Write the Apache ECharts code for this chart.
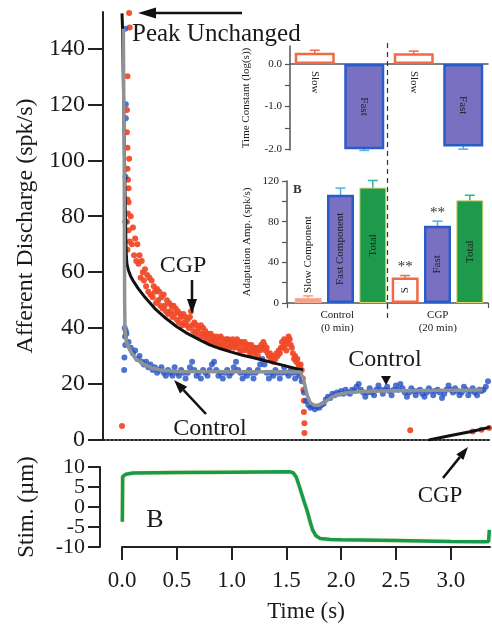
<!DOCTYPE html>
<html>
<head>
<meta charset="utf-8">
<script src="https://cdn.jsdelivr.net/npm/echarts@6/dist/echarts.min.js"></script>
<style>
  html, body { margin: 0; padding: 0; background: #fff; }
  #chart { width: 492px; height: 627px; }
</style>
</head>
<body>
<div id="chart"></div>
<script>
// ---- values ----

// CGP discharge (red dots), one sample every 10 ms starting at 0.08 s
const cgpStart = 0.08, cgpStep = 0.01;
const cgpRate = [
  80, 70, 76,
  66, 72, 64, 70, 63,
  66, 58, 64, 60, 57,
  61, 55, 59, 53, 58,
  52, 57, 51, 55, 53,
  49, 54, 50, 53, 48,
  51, 47, 52, 48, 46,
  50, 45, 49, 46, 48,
  44, 48, 45, 47, 43,
  46, 42, 45, 44, 41,
  45, 42, 44, 41, 43,
  40, 44, 46, 41, 39,
  42, 38, 41, 39, 40,
  37, 41, 38, 40, 37,
  39, 36, 38, 37, 35,
  38, 35, 37, 36, 34,
  37, 35, 36, 34, 37,
  34, 36, 35, 33, 36,
  34, 36, 33, 35, 34,
  36, 33, 35, 34, 36,
  33, 35, 32, 35, 34,
  32, 35, 33, 34, 32,
  34, 31, 34, 32, 33,
  31, 33, 32, 30, 33,
  32, 34, 33, 35, 34,
  32, 33, 31, 30, 31,
  29, 30, 28, 30, 29,
  31, 30, 32, 31, 33,
  35, 33, 36, 34, 32,
  35, 37, 36, 34, 33,
  31, 29, 30, 28, 29,
  27, 26, 27, 25
];
// onset burst, fall at release and stray CGP points [t, spk/s]
const cgpExtra = [
  [0.065, 152.6], [0.07, 147.5], [0.05, 130], [0.045, 118], [0.045, 110], [0.05, 104.5],
  [0.065, 100.5], [0.05, 97], [0.055, 93], [0.06, 90], [0.05, 86], [0.06, 85], [0.055, 81],
  [0.045, 78], [0.06, 75], [0.07, 71], [0.05, 68],
  [1.65, 22], [1.655, 18], [1.66, 14], [1.66, 10], [1.665, 6], [1.665, 2.5],
  [0.0, 5], [2.63, 3.5], [3.2, 3.0], [3.28, 3.7], [3.35, 4.3]
];

// Control discharge (blue dots), one sample every 20 ms starting at 0.04 s
const ctrlStart = 0.04, ctrlStep = 0.02;
const ctrlRate = [
  38, 35, 33, 31, 32, 29, 30, 28, 27, 28,
  26, 27, 25, 26, 24, 25, 26, 24, 23, 25,
  24, 23, 26, 24, 23, 25, 24, 22, 24, 26,
  28, 25, 23, 24, 22, 25, 24, 23, 25, 27,
  28, 25, 23, 24, 22, 24, 25, 23, 24, 26,
  28, 25, 24, 22, 24, 23, 25, 24, 22, 24,
  25, 27, 29, 27, 24, 22, 24, 23, 25, 24,
  22, 24, 26, 24, 23, 25, 24, 22, 24, 23,
  21, 17, 14, 12.5, 11.5, 12, 11, 12, 11.5, 12.5,
  13, 14.5, 15.5, 15, 16.5, 16, 17, 16.5, 17.5, 16.5,
  18, 17, 16.5, 18, 17.5, 19, 20, 18, 17, 15.5,
  17, 18.5, 17, 16, 18, 19.5, 18, 16.5, 18, 19,
  17.5, 16, 18, 19.5, 18, 20, 18.5, 17, 15.5, 17,
  18.5, 17.5, 16, 17.5, 18, 16.5, 15.5, 17, 18.5, 17.5,
  16, 17.5, 18, 17, 15, 16.5, 18, 19.5, 18, 17,
  18.5, 17.5, 16, 17, 19, 18, 16, 17.5, 18.5, 17,
  16, 18, 17.5, 18, 19, 21, 23
];
const ctrlExtra = [
  [0.03, 147], [0.035, 120], [0.035, 115], [0.032, 94], [0.03, 78],
  [0.02, 25], [0.022, 29.5], [0.025, 40], [0.028, 37], [0.03, 34], [0.035, 39]
];

// fitted curves
const cgpFit = [
  [0.0, 152.5], [0.005, 147], [0.015, 120], [0.025, 95], [0.032, 78], [0.038, 67],
  [0.045, 63], [0.06, 60.5], [0.08, 58.5], [0.1, 57], [0.15, 54], [0.2, 51.5],
  [0.3, 47], [0.4, 43.5], [0.5, 40.5], [0.6, 38], [0.7, 36], [0.8, 34], [0.9, 32.6],
  [1.0, 31.4], [1.1, 30.3], [1.2, 29.4], [1.3, 28.4], [1.4, 27.4], [1.5, 26.4],
  [1.6, 25.4], [1.65, 25]
];
const cgpFitLate = [[2.8, 0], [3.0, 1.6], [3.2, 3.1], [3.36, 4.6]];
const ctrlFit = [
  [0.012, 147], [0.02, 100], [0.024, 50], [0.027, 40], [0.04, 35], [0.073, 32],
  [0.12, 29.3], [0.19, 27.3], [0.27, 25.8], [0.35, 25], [0.5, 24.5], [1.0, 24.4],
  [1.63, 24.3], [1.66, 21], [1.69, 16], [1.72, 13.2], [1.76, 12.3], [1.8, 12.4],
  [1.85, 13.5], [1.9, 15], [1.96, 16.2], [2.05, 16.9], [2.2, 17.3], [2.5, 17.6],
  [3.0, 17.8], [3.29, 17.9]
];

// stimulus trace
const stim = [
  [0.003, -3.7], [0.006, 7.6], [0.036, 8.2], [0.1, 8.5], [0.5, 8.6], [1.0, 8.7],
  [1.53, 8.8], [1.56, 8.6], [1.59, 7.5], [1.62, 5], [1.66, 1.5], [1.69, -1],
  [1.72, -4], [1.74, -5.8], [1.77, -7.2], [1.81, -7.9], [1.9, -8.1], [2.0, -8.2],
  [2.5, -8.4], [3.0, -8.6], [3.3, -8.7], [3.345, -8.6], [3.352, -5.7]
];

const rateTicks = [0, 20, 40, 60, 80, 100, 120, 140];
const timeTicks = [0, 0.5, 1.0, 1.5, 2.0, 2.5, 3.0];
const stimTicks = [-10, -5, 0, 5, 10];
// labels are split over two axes so ECharts does not drop the crowded ones
const stimLabelsMain = [-10, 0, 10];
const stimLabelsMid = [-5, 5];

// inset: time constants
const tauNames = ['Slow', 'Fast', 'Slow', 'Fast'];
const tauKinds = ['slow', 'fast', 'slow', 'fast'];
const tauValues = [0.26, -2.0, 0.25, -1.94];
const tauErr = [0.06, 0.03, 0.05, 0.06];
const tauTicks = [-2, -1.5, -1, -0.5, 0];
const tauLabels = [-2, -1, 0];

// inset B: adaptation amplitudes
const ampNames = ['Slow Component', 'Fast Component', 'Total', 'S', 'Fast', 'Total'];
const ampKinds = ['slowFill', 'fast', 'total', 'slow', 'fast', 'total'];
const ampValues = [5, 106.5, 113.5, 25, 76, 101];
const ampErr = [2, 6.5, 7, 2, 4.5, 5];
const ampStars = ['', '', '', '**', '**', ''];
const ampTicks = [0, 20, 40, 60, 80, 100, 120];
const ampLabels = [0, 40, 80, 120];
const groups = ['Control\n(0 min)', 'CGP\n(20 min)'];

// ---- styling ----
const SERIF = 'Liberation Serif';
const INK = '#1a1a1a';
const barStyle = {
  slow: { color: '#ffffff', borderColor: '#f26a45', borderWidth: 2.5 },
  slowFill: { color: '#f6a289', borderColor: '#f7b09a', borderWidth: 1 },
  fast: { color: '#7a70c2', borderColor: '#2a5cc8', borderWidth: 2.5 },
  total: { color: '#1d9a4c', borderColor: '#ddd66e', borderWidth: 1 }
};
const errColor = { slow: '#f26a45', slowFill: '#f59a80', fast: '#4fb0e6', total: '#2fb3a0' };

const chart = echarts.init(document.getElementById('chart'), null, { renderer: 'canvas' });

const cgpPoints = cgpRate.map((v, i) => [+(cgpStart + i * cgpStep).toFixed(3), v]).concat(cgpExtra);
const ctrlPoints = ctrlRate.map((v, i) => [+(ctrlStart + i * ctrlStep).toFixed(3), v]).concat(ctrlExtra);

function errRender(values, errs, kinds, stars) {
  return function (params, api) {
    const i = params.dataIndex;
    const v = values[i], e = errs[i];
    const hi = api.coord([i, v + e]);
    const lo = api.coord([i, v - e]);
    const c = errColor[kinds[i]];
    const cap = 5;
    const kids = [
      { type: 'line', shape: { x1: hi[0], y1: hi[1], x2: lo[0], y2: lo[1] }, style: { stroke: c, lineWidth: 1.5 } },
      { type: 'line', shape: { x1: hi[0] - cap, y1: hi[1], x2: hi[0] + cap, y2: hi[1] }, style: { stroke: c, lineWidth: 1.5 } },
      { type: 'line', shape: { x1: lo[0] - cap, y1: lo[1], x2: lo[0] + cap, y2: lo[1] }, style: { stroke: c, lineWidth: 1.5 } }
    ];
    if (stars && stars[i]) {
      kids.push({ type: 'text', style: { text: stars[i], x: hi[0], y: hi[1] - 1, align: 'center', verticalAlign: 'bottom', fontSize: 15, fontFamily: SERIF, fill: '#333' } });
    }
    return { type: 'group', children: kids };
  };
}

function arrow(x1, y1, x2, y2, head, half, width) {
  const dx = x2 - x1, dy = y2 - y1, len = Math.hypot(dx, dy);
  const ux = dx / len, uy = dy / len;
  const bx = x2 - ux * head, by = y2 - uy * head;
  return [
    { type: 'line', z: 50, shape: { x1: x1, y1: y1, x2: bx, y2: by }, style: { stroke: '#111', lineWidth: width } },
    { type: 'polygon', z: 50, shape: { points: [[x2, y2], [bx - uy * half, by + ux * half], [bx + uy * half, by - ux * half]] }, style: { fill: '#111' } }
  ];
}

function label(text, x, y, size, align) {
  return {
    type: 'text', z: 50,
    style: { text: text, x: x, y: y, fontSize: size, fontFamily: SERIF, fill: INK, align: align || 'center', verticalAlign: 'middle' }
  };
}

const smallAxisText = { fontSize: 11, fontFamily: SERIF, color: INK };
const stimLabelText = { fontSize: 22, fontFamily: SERIF, color: INK, margin: 15 };

const option = {
  animation: false,
  backgroundColor: '#fff',
  grid: [
    { left: 103, top: 12, width: 387, height: 428, outerBoundsMode: 'none' },
    { left: 122, top: 467, width: 368, height: 80, outerBoundsMode: 'none' },
    { left: 290, top: 46, width: 198, height: 104, outerBoundsMode: 'none' },
    { left: 287, top: 181, width: 201, height: 122, outerBoundsMode: 'none' },
    { left: 292, top: 181, width: 194, height: 122, outerBoundsMode: 'none' },
    { left: 287, top: 40, width: 201, height: 278, outerBoundsMode: 'none' }
  ],
  xAxis: [
    {
      gridIndex: 0, type: 'value', min: -0.1734, max: 3.358,
      axisLine: { show: true, onZero: true, lineStyle: { color: '#222', width: 2, type: 'dotted' } },
      axisTick: { show: false }, axisLabel: { show: false }, splitLine: { show: false }
    },
    {
      gridIndex: 1, type: 'value', min: 0, max: 3.358,
      axisLine: { show: true, onZero: false, lineStyle: { color: '#222', width: 2 } },
      axisTick: { show: true, length: 13, lineStyle: { width: 2, color: '#222' }, customValues: timeTicks },
      axisLabel: { customValues: timeTicks, formatter: v => v.toFixed(1), fontSize: 23, fontFamily: SERIF, color: INK, margin: 22 },
      splitLine: { show: false },
      name: 'Time (s)', nameLocation: 'middle', nameGap: 53,
      nameTextStyle: { fontSize: 23, fontFamily: SERIF, color: INK }
    },
    {
      gridIndex: 2, type: 'category', data: tauNames.map((n, i) => 'tau' + i),
      axisLine: { show: true, onZero: true, lineStyle: { color: '#555', width: 1.5 } },
      axisTick: { show: false }, axisLabel: { show: false }
    },
    {
      gridIndex: 3, type: 'category', data: groups,
      axisLine: { show: true, lineStyle: { color: '#555', width: 1.5 } },
      axisTick: { show: true, length: 5, lineStyle: { color: '#555', width: 1.2 } },
      axisLabel: Object.assign({ margin: 6, lineHeight: 13, interval: 0 }, smallAxisText)
    },
    { gridIndex: 4, type: 'category', data: ampNames.map((n, i) => 'amp' + i), show: false },
    { gridIndex: 5, type: 'value', min: 0, max: 2, show: false }
  ],
  yAxis: [
    {
      gridIndex: 0, type: 'value', min: 0, max: 153,
      axisLine: { show: true, onZero: false, lineStyle: { color: '#222', width: 2 } },
      axisTick: { show: true, length: 15, lineStyle: { width: 2, color: '#222' }, customValues: rateTicks },
      axisLabel: { customValues: rateTicks, fontSize: 24, fontFamily: SERIF, color: INK, margin: 18 },
      splitLine: { show: false },
      name: 'Afferent Discharge (spk/s)', nameLocation: 'middle', nameGap: 62,
      nameTextStyle: { fontSize: 24, fontFamily: SERIF, color: INK }
    },
    {
      gridIndex: 1, type: 'value', min: -10, max: 10, offset: 22,
      axisLine: { show: true, onZero: false, lineStyle: { color: '#222', width: 2 } },
      axisTick: { show: true, length: 12, lineStyle: { width: 2, color: '#222' }, customValues: stimTicks },
      axisLabel: Object.assign({ customValues: stimLabelsMain, showMinLabel: true, showMaxLabel: true }, stimLabelText),
      splitLine: { show: false },
      name: 'Stim. (µm)', nameLocation: 'middle', nameGap: 62,
      nameTextStyle: { fontSize: 23, fontFamily: SERIF, color: INK }
    },
    {
      gridIndex: 2, type: 'value', min: -2.02, max: 0.42,
      axisLine: { show: true, onZero: false, lineStyle: { color: '#555', width: 1.5 } },
      axisTick: { show: true, length: 5, lineStyle: { color: '#555', width: 1.2 }, customValues: tauTicks },
      axisLabel: Object.assign({ customValues: tauLabels, formatter: v => v.toFixed(1), margin: 8 }, smallAxisText),
      splitLine: { show: false },
      name: 'Time Constant (log(s))', nameLocation: 'middle', nameGap: 38,
      nameTextStyle: smallAxisText
    },
    {
      gridIndex: 3, type: 'value', min: 0, max: 120,
      axisLine: { show: true, onZero: false, lineStyle: { color: '#555', width: 1.5 } },
      axisTick: { show: true, length: 5, lineStyle: { color: '#555', width: 1.2 }, customValues: ampTicks },
      axisLabel: Object.assign({ customValues: ampLabels, margin: 8 }, smallAxisText),
      splitLine: { show: false },
      name: 'Adaptation Amp. (spk/s)', nameLocation: 'middle', nameGap: 34,
      nameTextStyle: smallAxisText
    },
    { gridIndex: 4, type: 'value', min: 0, max: 120, show: false },
    { gridIndex: 5, type: 'value', min: 0, max: 1, show: false },
    {
      gridIndex: 1, type: 'value', min: -10, max: 10, offset: 22, position: 'left',
      axisLine: { show: false }, axisTick: { show: false }, splitLine: { show: false },
      axisLabel: Object.assign({ customValues: stimLabelsMid, showMinLabel: true, showMaxLabel: true }, stimLabelText)
    }
  ],
  series: [
    {
      name: 'CGP', type: 'scatter', xAxisIndex: 0, yAxisIndex: 0, z: 2,
      symbolSize: 6, itemStyle: { color: '#f04a28', opacity: 0.95 },
      data: cgpPoints
    },
    {
      name: 'Control', type: 'scatter', xAxisIndex: 0, yAxisIndex: 0, z: 3,
      symbolSize: 6, itemStyle: { color: '#2450c4' },
      data: ctrlPoints
    },
    {
      name: 'CGP fit', type: 'line', xAxisIndex: 0, yAxisIndex: 0, z: 4,
      showSymbol: false, lineStyle: { color: '#111', width: 3 }, data: cgpFit
    },
    {
      name: 'CGP fit late', type: 'line', xAxisIndex: 0, yAxisIndex: 0, z: 4,
      showSymbol: false, lineStyle: { color: '#111', width: 3 }, data: cgpFitLate
    },
    {
      name: 'Control fit', type: 'line', xAxisIndex: 0, yAxisIndex: 0, z: 5,
      showSymbol: false, lineStyle: { color: '#8d9394', width: 3.5 }, data: ctrlFit
    },
    {
      name: 'Stim', type: 'line', xAxisIndex: 1, yAxisIndex: 1,
      showSymbol: false,
      lineStyle: { color: '#159a50', width: 3.5, shadowColor: 'rgba(225,210,90,0.7)', shadowBlur: 2 },
      data: stim
    },
    {
      name: 'tau err', type: 'custom', xAxisIndex: 2, yAxisIndex: 2, z: 1,
      renderItem: errRender(tauValues, tauErr, tauKinds, null),
      data: tauValues.map((v, i) => [i, v])
    },
    {
      name: 'tau', type: 'bar', xAxisIndex: 2, yAxisIndex: 2, z: 2, barWidth: 40,
      label: {
        show: true, formatter: p => tauNames[p.dataIndex],
        fontSize: 11, fontFamily: SERIF, color: '#222'
      },
      data: tauValues.map((v, i) => ({
        value: v,
        itemStyle: barStyle[tauKinds[i]],
        label: tauKinds[i] === 'slow'
          ? { position: 'bottom', distance: 7, rotate: -90, align: 'left', verticalAlign: 'middle' }
          : { position: 'inside', rotate: -90, align: 'center', verticalAlign: 'middle' }
      }))
    },
    {
      name: 'amp err', type: 'custom', xAxisIndex: 4, yAxisIndex: 4, z: 1,
      renderItem: errRender(ampValues, ampErr, ampKinds, ampStars),
      data: ampValues.map((v, i) => [i, v])
    },
    {
      name: 'amp', type: 'bar', xAxisIndex: 4, yAxisIndex: 4, z: 2, barWidth: 27,
      label: {
        show: true, formatter: p => ampNames[p.dataIndex],
        fontSize: 11, fontFamily: SERIF, color: '#222'
      },
      data: ampValues.map((v, i) => ({
        value: v,
        itemStyle: barStyle[ampKinds[i]],
        label: ampKinds[i] === 'slowFill'
          ? { position: 'top', distance: 5, rotate: 90, align: 'left', verticalAlign: 'middle' }
          : { position: 'inside', rotate: 90, align: 'center', verticalAlign: 'middle' }
      }))
    },
    {
      name: 'separator', type: 'line', xAxisIndex: 5, yAxisIndex: 5, data: [],
      markLine: {
        silent: true, symbol: 'none', label: { show: false },
        lineStyle: { color: '#333', width: 1.2, type: [5, 4] },
        data: [{ xAxis: 1 }]
      }
    }
  ],
  graphic: {
    elements: [].concat(
      [label('Peak Unchanged', 132, 34, 25, 'left')],
      arrow(242, 13, 138, 13, 18, 5.5, 2.5),
      [label('CGP', 183, 266, 24)],
      arrow(192, 280, 192, 314, 15, 5, 2.5),
      [label('Control', 210, 429, 24)],
      arrow(206, 414, 174, 380, 14, 5, 2.5),
      [label('Control', 385, 360, 24)],
      [{ type: 'polygon', z: 50, shape: { points: [[381, 376], [391, 376], [386, 385]] }, style: { fill: '#111' } }],
      [label('CGP', 440, 496, 23)],
      arrow(443, 478, 468, 447, 13, 4.5, 2.5),
      [label('B', 155, 520, 26)],
      [{ type: 'text', z: 50, style: { text: 'B', x: 293, y: 190, fontSize: 13, fontWeight: 'bold', fontFamily: SERIF, fill: '#333', verticalAlign: 'middle' } }]
    )
  }
};

chart.setOption(option);
</script>
</body>
</html>
